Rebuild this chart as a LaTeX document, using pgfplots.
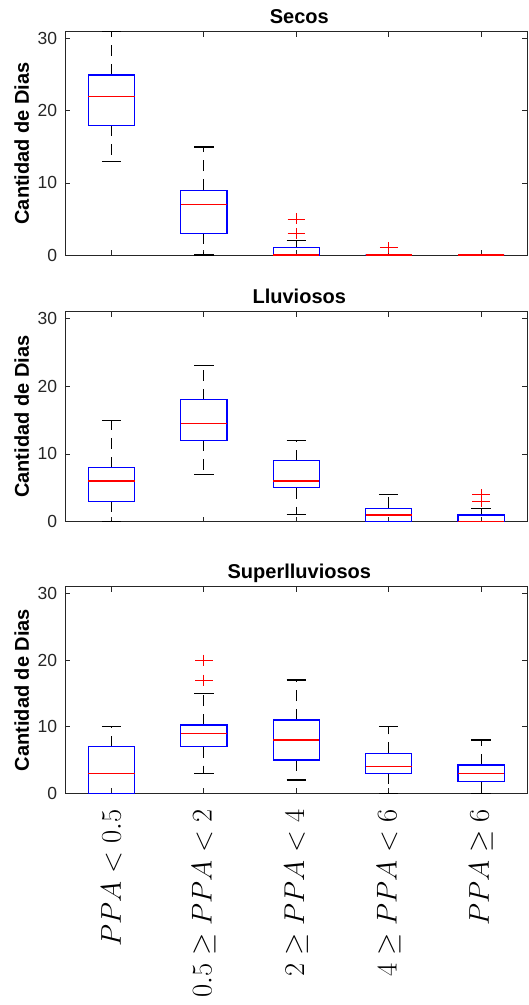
\documentclass[border=0pt]{standalone}
\usepackage{pgfplots}
\pgfplotsset{compat=1.18}
\usepgfplotslibrary{statistics}
\usepackage{fontspec}
\newfontfamily\arial{Liberation Sans}
\definecolor{axgray}{RGB}{38,38,38}
\definecolor{bxblue}{RGB}{0,0,255}
\definecolor{mdred}{RGB}{255,0,0}
\begin{document}
\begin{tikzpicture}
\pgfplotsset{
  panel/.style={
    scale only axis, width=462pt,
    xmin=0.5, xmax=5.5, ymin=0, ymax=31,
    ytick={0,10,20,30}, xtick={1,2,3,4,5},
    tick align=inside, major tick length=5pt,
    axis line style={axgray, line width=0.9pt},
    every tick/.style={axgray, line width=0.9pt},
    tick label style={font=\arial\fontsize{17.5}{20}\selectfont, text=axgray},
    /pgf/number format/assume math mode=true,
    yticklabel style={inner sep=0pt, xshift=-8pt},
    ylabel={Cantidad de Dias},
    every axis y label/.style={at={(axis description cs:0,0.5)}, xshift=-36.5pt, rotate=90, anchor=base, inner sep=0pt, font=\arial\bfseries\fontsize{20}{24}\selectfont},
    every axis title/.style={at={(axis description cs:0.5,1)}, xshift=3pt, yshift=8.6pt, anchor=base, inner sep=0pt, font=\arial\bfseries\fontsize{20}{24}\selectfont},
    boxplot/draw direction=y,
    boxplot/box extend=0.5,
    boxplot/whisker extend=0.21,
    boxplot/draw/lower whisker/.code={%
      \draw[black, line width=1.1pt, dash pattern=on 11pt off 8pt] (boxplot cs:\pgfplotsboxplotvalue{lower quartile}) -- (boxplot cs:\pgfplotsboxplotvalue{lower whisker});
      \draw[black, line width=1.1pt, solid] (boxplot whisker cs:\pgfplotsboxplotvalue{lower whisker},0) -- (boxplot whisker cs:\pgfplotsboxplotvalue{lower whisker},1);
    },
    boxplot/draw/upper whisker/.code={%
      \draw[black, line width=1.1pt, dash pattern=on 11pt off 8pt] (boxplot cs:\pgfplotsboxplotvalue{upper quartile}) -- (boxplot cs:\pgfplotsboxplotvalue{upper whisker});
      \draw[black, line width=1.1pt, solid] (boxplot whisker cs:\pgfplotsboxplotvalue{upper whisker},0) -- (boxplot whisker cs:\pgfplotsboxplotvalue{upper whisker},1);
    },
    boxplot/draw/box/.code={%
      \draw[bxblue, line width=1.2pt, solid] (boxplot box cs:\pgfplotsboxplotvalue{lower quartile},0) rectangle (boxplot box cs:\pgfplotsboxplotvalue{upper quartile},1);
    },
    boxplot/draw/median/.code={%
      \draw[mdred, line width=1.2pt, solid] (boxplot box cs:\pgfplotsboxplotvalue{median},0) -- (boxplot box cs:\pgfplotsboxplotvalue{median},1);
    },
  },
  bp/.style={mdred, solid, mark=+, mark size=5.5pt, mark options={mdred, line width=0.9pt, xscale=1.6}},
}
% ---------------- Secos
\begin{axis}[panel, at={(65.3pt,-31.7pt)}, anchor=north west, height=223.3pt,
  title={Secos}, xticklabels={}]
\addplot[bp, boxplot prepared={lower whisker=13, lower quartile=18, median=22, upper quartile=25, upper whisker=31, draw position=1}] coordinates {};
\addplot[bp, boxplot prepared={lower whisker=0, lower quartile=3, median=7, upper quartile=9, upper whisker=15, draw position=2}] coordinates {};
\addplot[bp, boxplot prepared={lower whisker=0, lower quartile=0, median=0, upper quartile=1, upper whisker=2, draw position=3}] table[row sep=\\, y index=0] {v\\ 3\\ 5\\};
\addplot[bp, boxplot prepared={lower whisker=0, lower quartile=0, median=0, upper quartile=0, upper whisker=0, draw position=4}] table[row sep=\\, y index=0] {v\\ 1\\};
\addplot[bp, boxplot prepared={lower whisker=0, lower quartile=0, median=0, upper quartile=0, upper whisker=0, draw position=5}] coordinates {};
\end{axis}
% ---------------- Lluviosos
\begin{axis}[panel, at={(65.3pt,-311.7pt)}, anchor=north west, height=210pt,
  title={Lluviosos}, xticklabels={}]
\addplot[bp, boxplot prepared={lower whisker=0, lower quartile=3, median=6, upper quartile=8, upper whisker=15, draw position=1}] coordinates {};
\addplot[bp, boxplot prepared={lower whisker=7, lower quartile=12, median=14.5, upper quartile=18, upper whisker=23, draw position=2}] coordinates {};
\addplot[bp, boxplot prepared={lower whisker=1, lower quartile=5, median=6, upper quartile=9, upper whisker=12, draw position=3}] coordinates {};
\addplot[bp, boxplot prepared={lower whisker=0, lower quartile=0, median=1, upper quartile=2, upper whisker=4, draw position=4}] coordinates {};
\addplot[bp, boxplot prepared={lower whisker=0, lower quartile=0, median=0, upper quartile=1, upper whisker=2, draw position=5}] table[row sep=\\, y index=0] {v\\ 3\\ 4\\};
\end{axis}
% ---------------- Superlluviosos
\begin{axis}[panel, at={(65.3pt,-586.7pt)}, anchor=north west, height=206.6pt,
  title={Superlluviosos},
  xticklabels={{$PPA < 0.5$},{$0.5 \geq PPA < 2$},{$2 \geq PPA < 4$},{$4 \geq PPA < 6$},{$PPA \geq 6$}},
  xticklabel style={font=\fontsize{24.88}{30}\selectfont, text=black, yshift=-16pt, rotate=90, scale=1.15, anchor=east, inner sep=0pt}]
\addplot[bp, boxplot prepared={lower whisker=0, lower quartile=0, median=3, upper quartile=7, upper whisker=10, draw position=1}] coordinates {};
\addplot[bp, boxplot prepared={lower whisker=3, lower quartile=7, median=9, upper quartile=10.25, upper whisker=15, draw position=2}] table[row sep=\\, y index=0] {v\\ 17\\ 20\\};
\addplot[bp, boxplot prepared={lower whisker=2, lower quartile=5, median=8, upper quartile=11, upper whisker=17, draw position=3}] coordinates {};
\addplot[bp, boxplot prepared={lower whisker=0, lower quartile=3, median=4, upper quartile=6, upper whisker=10, draw position=4}] coordinates {};
\addplot[bp, boxplot prepared={lower whisker=0, lower quartile=1.75, median=3, upper quartile=4.25, upper whisker=8, draw position=5}] coordinates {};
\end{axis}
\pgfresetboundingbox
\path[use as bounding box] (0pt,0pt) rectangle (529pt,-1005pt);
\end{tikzpicture}
\end{document}
